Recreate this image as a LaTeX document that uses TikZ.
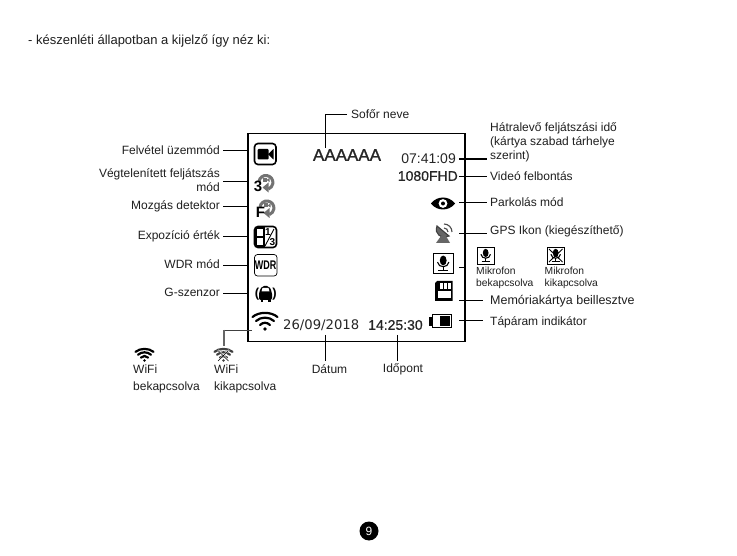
\documentclass[tikz,border=0pt]{standalone}
\usepackage{fontspec}
\setmainfont{Liberation Sans}
\newfontfamily\boldish[FakeBold=1.2]{Liberation Sans}
\newfontfamily\boldlight[FakeBold=0.5]{Liberation Sans}
\newfontfamily\dejav{DejaVu Sans}
\usetikzlibrary{calc}
\newcommand{\wifiicon}[3]{% x y scale
  \begin{scope}[shift={(#1,#2)},scale=#3,line cap=round]
    \fill (0,0) circle (1.9);
    \draw[line width=2.2pt] (-5,-4) .. controls (-2,-7) and (2,-7) .. (5,-4);
    \draw[line width=2.2pt] (-9,-8) .. controls (-4,-12.5) and (4,-12.5) .. (9,-8);
    \draw[line width=2.2pt] (-12.5,-12) .. controls (-6,-17.5) and (6,-17.5) .. (12.5,-12);
  \end{scope}}
\newcommand{\micicon}[3]{%
  \begin{scope}[shift={(#1,#2)},scale=#3]
    \fill (0,-3.2) ellipse (3.6 and 5.2);
    \draw[line width=1.1pt] (-6,-1.5) .. controls (-5,5) and (5,5) .. (6,-1.5);
    \draw[line width=1.4pt] (0,3) -- (0,7);
    \draw[line width=1.4pt] (-5,7.5) -- (5,7.5);
  \end{scope}}
\newcommand{\loopicon}[2]{%
  \begin{scope}[shift={(#1,#2)},black!55]
    \draw[line width=3pt] (-7,1) arc (-172:70:7);
    \fill (-3.5,7) -- (2.5,2) -- (2.5,12) -- cycle;
    \fill (-3,-2.5) rectangle (1,1.5);
    \fill (0.5,-0.5) -- (3.5,-2.5) -- (3.5,1.5) -- cycle;
  \end{scope}}
\tikzset{
  lbl/.style={font=\fontsize{12}{14}\selectfont,text=black!88,inner sep=0pt,align=left},
  small/.style={font=\fontsize{10.3}{12.5}\selectfont,text=black!88,inner sep=0pt,align=left},
  legend/.style={lbl,font=\fontsize{12}{17}\selectfont},
  lead/.style={draw=black,line width=0.9pt},
  screen/.style={draw=black,line width=1.5pt},
  readout/.style={font=\fontsize{14}{16}\selectfont,inner sep=0pt,text=black!85},
  icobox/.style={draw=black,line width=1.6pt,rounded corners=3.5pt,fill=white}
}
\begin{document}
\begin{tikzpicture}[x=1pt,y=-1pt]
\useasboundingbox (0,0) rectangle (737,556);
\fill[white] (0,0) rectangle (737,556);
\node[lbl,anchor=west,font=\fontsize{13}{15}\selectfont] (title) at (28,41) {- készenléti állapotban a kijelző így néz ki:};
\node[screen,minimum width=217pt,minimum height=208pt,anchor=north west,inner sep=0pt] (frame) at (247,133) {};

% left labels
\node[lbl,anchor=east] (l1) at (220,150) {Felvétel üzemmód};
\node[lbl,anchor=east,align=right] (l2) at (220,180) {Végtelenített feljátszás\\mód};
\node[lbl,anchor=east] (l3) at (220,206) {Mozgás detektor};
\node[lbl,anchor=east] (l4) at (220,236) {Expozíció érték};
\node[lbl,anchor=east] (l5) at (220,264) {WDR mód};
\node[lbl,anchor=east] (l6) at (220,292) {G-szenzor};
\coordinate (t1) at (247,150);
\coordinate (t2) at (247,181);
\coordinate (t3) at (247,206);
\coordinate (t4) at (247,236);
\coordinate (t5) at (247,265);
\coordinate (t6) at (247,293);
\draw[lead] ([xshift=3pt]l1.east |- t1) -- (t1);
\draw[lead] ([xshift=3pt]l2.east |- t2) -- (t2);
\draw[lead] ([xshift=3pt]l3.east |- t3) -- (t3);
\draw[lead] ([xshift=3pt]l4.east |- t4) -- (t4);
\draw[lead] ([xshift=3pt]l5.east |- t5) -- (t5);
\draw[lead] ([xshift=3pt]l6.east |- t6) -- (t6);

% left icons
\draw[icobox] (254.5,143.5) rectangle (276,164.5);
\fill[rounded corners=1pt] (257.5,149) rectangle (268.5,159.5);
\fill (268,154.2) -- (273.5,149) -- (273.5,159.5) -- cycle;
\loopicon{266}{180.5}
\node[font=\bfseries\fontsize{15}{15}\selectfont,inner sep=0pt] (n3) at (258,186) {3};
\loopicon{267}{206}
\node[font=\bfseries\fontsize{15}{15}\selectfont,inner sep=0pt] (nF) at (260.5,212) {F};
\draw[icobox] (254.5,226.5) rectangle (276.5,247.5);
\fill (255,227) rectangle (264.5,247);
\fill[white] (257,229) rectangle (263,236);
\fill[white] (257,238) rectangle (263,245);
\node[font=\bfseries\fontsize{10}{10}\selectfont,inner sep=0pt] (frac1) at (268,232.5) {1};
\draw[line width=0.9pt] (265,246) -- (274,229);
\node[font=\bfseries\fontsize{10}{10}\selectfont,inner sep=0pt] (frac3) at (272.5,242) {3};
\draw[black,line width=0.7pt,rounded corners=3pt] (254.5,254.5) rectangle (277,276);
\node[font=\bfseries\fontsize{12.5}{12}\selectfont,inner sep=0pt,xscale=0.72] (wdr) at (265.7,265.2) {WDR};
\fill[rounded corners=2pt] (259,300) -- (259,292) -- (262,286) -- (269,286) -- (272,292) -- (272,300) -- cycle;
\fill[white] (262.5,288) -- (268.5,288) -- (269.5,291.5) -- (261.5,291.5) -- cycle;
\fill (260.5,299) rectangle (263,302);
\fill (268,299) rectangle (270.5,302);
\node[font=\bfseries\fontsize{13}{13}\selectfont,inner sep=0pt] (pl) at (257,294) {(};
\node[font=\bfseries\fontsize{13}{13}\selectfont,inner sep=0pt] (pr) at (274.5,294) {)};

% wifi leader
\coordinate (wt) at (252,330);
\coordinate (wk) at (224,330);
\coordinate (wb) at (224,346);
\draw[draw=black!75,line width=0.9pt] (wt) -- (wk);
\draw[draw=black!60,line width=1.4pt] (wk) -- (wb);
\wifiicon{265}{329}{1}

% screen text
\node[font=\boldish\fontsize{17}{17}\selectfont,inner sep=0pt,text=black!85] (aaa) at (347,155) {AAAAAA};
\node[readout,anchor=east] (time1) at (456,158.5) {07:41:09};
\node[readout,anchor=east,font=\boldlight\fontsize{14}{16}\selectfont] (fhd) at (458,176) {1080FHD};
\node[readout,anchor=west,font=\dejav\fontsize{13.2}{16}\selectfont] (date) at (283,325.5) {26/09/2018};
\node[readout,anchor=west,font=\boldlight\fontsize{14}{16}\selectfont] (clock) at (368,325) {14:25:30};

% top
\node[lbl,anchor=west] (sofor) at (351,114) {Sofőr neve};
\coordinate (sc) at (325,114);
\coordinate (sd) at (325,148);
\draw[lead] ([xshift=-4pt]sofor.west) -- (sc) -- (sd);

% right labels
\node[lbl,anchor=west] (r1) at (490,142) {Hátralevő feljátszási idő\\(kártya szabad tárhelye\\szerint)};
\node[lbl,anchor=west] (r2) at (490,176) {Videó felbontás};
\node[lbl,anchor=west] (r3) at (490,202) {Parkolás mód};
\node[lbl,anchor=west] (r4) at (490,231) {GPS Ikon (kiegészíthető)};
\node[lbl,anchor=west,font=\fontsize{12.5}{14}\selectfont] (r5) at (490,301) {Memóriakártya beillesztve};
\node[lbl,anchor=west] (r6) at (490,322) {Tápáram indikátor};
\draw[line width=1.6pt] (459,159) -- ([xshift=-3pt]r1.west |- 0,159);
\draw[lead] (459,176) -- ([xshift=-3pt]r2.west);
\draw[lead] (459,202) -- ([xshift=-3pt]r3.west);
\draw[lead] (459,233) -- ([xshift=-3pt]r4.west |- 0,233);
\draw[lead] (459,267) -- (466,267);
\draw[lead] (459,300.7) -- ([xshift=-7pt]r5.west |- 0,300.7);
\draw[lead] (459,320.5) -- ([xshift=-7pt]r6.west |- 0,320.5);

% right icons
\fill (431,203.5) .. controls (437,195.5) and (449,195.5) .. (455,203.5) .. controls (449,211.5) and (437,211.5) .. (431,203.5) -- cycle;
\fill[white] (443,203.5) circle (4.4);
\fill (443,203.5) circle (2);
% GPS
\fill[black!60] (437,226) .. controls (434,234) and (441,239) .. (449,236) -- cycle;
\draw[line width=1.1pt,black!75] (437,226) .. controls (434,234) and (441,239) .. (449,236) -- cycle;
\fill[black!60] (441,236) -- (436,243) -- (450,243) -- (446,236) -- cycle;
\draw[line width=1.1pt,black!70] (444,228) arc (-90:0:4);
\draw[line width=1.1pt,black!70] (444,224) arc (-90:0:8);
% mic main
\draw[draw=black,fill=white,line width=0.9pt] (433,253.5) rectangle (453.5,273);
\micicon{443.2}{263.5}{0.95}
% SD card
\fill (437,281) -- (452.5,281) -- (452.5,301) -- (435,301) -- (435,283) -- cycle;
\fill[white] (437.5,291.5) rectangle (450.5,298.5);
\fill[white] (440,283) rectangle (442.5,289);
\fill[white] (444,283) rectangle (446.5,289);
\fill[white] (448,283) rectangle (450.5,289);
% battery
\fill (429,317) rectangle (432,326);
\draw[line width=1.7pt] (432.5,314.5) rectangle (451.5,327.5);
\fill (440,316) rectangle (450,326);

% mic legends
\draw[draw=black,line width=0.7pt] (477,247) rectangle (494.5,264);
\micicon{485.7}{255.5}{0.8}
\draw[draw=black,line width=0.7pt] (547,247) rectangle (564.5,264);
\micicon{555.7}{255.5}{0.8}
\draw[black,line width=0.9pt] (549,249) -- (562.5,262);
\draw[black,line width=0.9pt] (562.5,249) -- (549,262);
\node[small,anchor=north west] (m1) at (476,266.5) {Mikrofon\\bekapcsolva};
\node[small,anchor=north west] (m2) at (544.5,266.5) {Mikrofon\\kikapcsolva};

% bottom
\coordinate (d1) at (325,335);
\coordinate (d2) at (397,335);
\node[lbl] (datum) at (329.5,369) {Dátum};
\node[lbl] (idop) at (403,369) {Időpont};
\draw[lead] (d1) -- (325,361);
\draw[lead] (d2) -- (397,361);

% wifi legends
\wifiicon{144.5}{360.5}{0.72}
\node[legend,anchor=north west] (w1) at (133,365) {WiFi\\bekapcsolva};
\begin{scope}[black!75]
\wifiicon{223.5}{360.5}{0.72}
\end{scope}
\draw[white,line width=1.2pt] (218,350) -- (229,361) (229,350) -- (218,361);
\draw[black,line width=0.6pt] (218,350.5) -- (228.5,361) (228.5,350.5) -- (218,361);
\node[legend,anchor=north west] (w2) at (214,365) {WiFi\\kikapcsolva};

% page number
\fill[black] (369,531) circle (9.5);
\node[font=\fontsize{12}{12}\selectfont,text=white,inner sep=0pt] (pg) at (369,531) {9};
\end{tikzpicture}
\end{document}
